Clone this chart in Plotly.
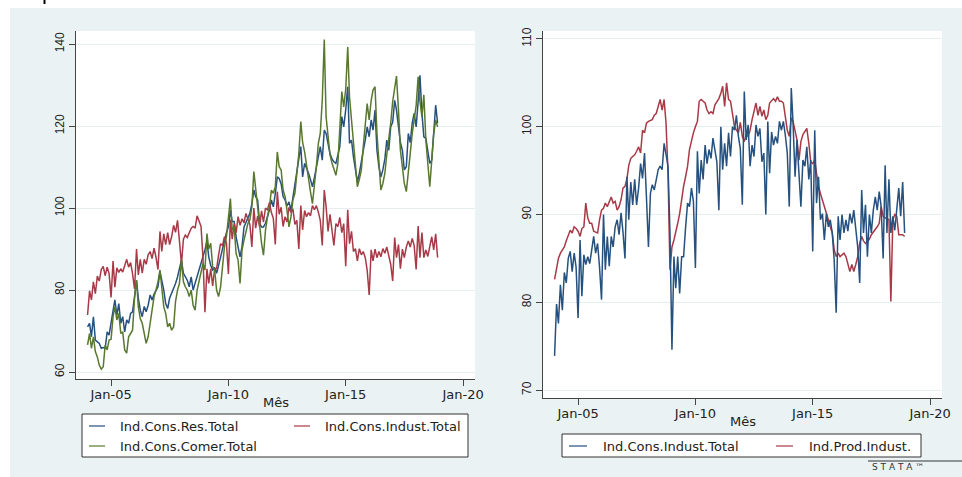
import pandas as pd
import plotly.graph_objects as go

# ---------------- data (monthly, Jan-2004 .. Dec-2018) ----------------
start_month = "2004-01-01"
n_months = 180

ind_cons_res_total = [
    71.0, 71.9, 68.6, 73.5, 67.8, 67.4, 67.0, 65.8, 66.0, 65.8, 69.8, 69.0,
    72.7, 75.0, 77.6, 73.9, 76.7, 71.9, 73.5, 69.8, 72.7, 71.9, 74.3, 74.7,
    78.4, 82.4, 78.0, 75.1, 73.5, 76.0, 74.7, 76.3, 78.8, 77.6, 79.0, 80.0,
    80.8, 84.5, 82.4, 80.0, 76.7, 75.5, 78.0, 79.2, 80.0, 81.6, 83.2, 84.9,
    87.3, 84.1, 83.2, 82.4, 80.8, 83.2, 80.0, 81.6, 83.7, 84.9, 86.9, 88.1,
    89.8, 92.0, 88.1, 86.0, 84.9, 85.5, 84.1, 86.0, 88.1, 90.0, 92.2, 94.0,
    95.4, 99.5, 96.7, 96.7, 93.0, 90.5, 88.1, 90.6, 95.4, 96.5, 97.9, 98.7,
    101.0, 104.4, 102.8, 102.0, 96.3, 95.4, 95.4, 96.3, 97.9, 99.5, 102.0, 100.3,
    103.5, 107.6, 107.2, 105.9, 102.8, 102.0, 100.5, 101.5, 99.5, 102.8, 106.0, 109.3,
    112.0, 115.0, 107.6, 110.9, 109.8, 108.5, 107.0, 105.2, 107.5, 110.1, 112.5, 115.0,
    111.7, 119.0, 118.2, 115.5, 113.3, 112.0, 111.3, 110.9, 113.0, 115.0, 122.3, 119.8,
    124.0, 129.6, 115.8, 116.6, 112.5, 109.0, 106.4, 108.5, 110.9, 114.0, 116.6, 119.8,
    117.4, 121.5, 119.0, 123.9, 114.1, 110.0, 107.6, 109.3, 112.0, 116.6, 114.1, 119.8,
    121.0, 126.3, 123.9, 119.0, 116.0, 114.1, 109.3, 110.1, 118.2, 116.0, 120.7, 123.1,
    119.8, 126.0, 132.4, 123.1, 117.4, 117.0, 114.0, 110.9, 111.7, 118.2, 125.1, 120.7,
]

ind_cons_comer_total = [
    66.6, 69.4, 65.8, 68.6, 65.0, 63.7, 61.7, 60.7, 61.3, 66.6, 65.4, 67.8,
    68.0, 73.5, 75.9, 72.7, 74.3, 69.4, 69.8, 65.4, 64.6, 68.6, 69.4, 70.2,
    78.0, 82.4, 75.9, 73.0, 71.9, 69.4, 67.0, 68.6, 71.9, 74.3, 78.4, 80.0,
    82.0, 84.9, 80.8, 75.9, 74.3, 71.0, 71.9, 70.2, 71.0, 77.2, 80.0, 81.6,
    87.3, 82.0, 80.8, 80.0, 78.4, 80.0, 76.3, 75.1, 80.0, 82.4, 84.9, 86.5,
    84.9, 93.8, 90.0, 91.4, 85.7, 84.9, 80.0, 78.4, 80.8, 84.9, 90.6, 93.0,
    97.9, 102.3, 94.6, 95.4, 88.9, 87.3, 81.6, 89.8, 92.2, 94.6, 96.3, 97.1,
    100.3, 108.9, 104.4, 101.1, 94.6, 91.4, 88.5, 94.6, 97.9, 100.3, 104.4, 103.6,
    105.2, 113.7, 110.1, 109.3, 104.4, 102.8, 99.5, 95.4, 97.9, 102.0, 103.6, 108.9,
    113.3, 121.1, 116.0, 113.7, 110.1, 107.6, 104.0, 101.1, 105.0, 110.1, 115.8, 118.2,
    126.3, 141.1, 122.3, 116.6, 113.0, 111.0, 109.3, 108.0, 110.9, 119.8, 128.4, 124.7,
    129.0, 139.3, 127.1, 121.5, 115.8, 110.0, 105.2, 107.0, 109.3, 115.0, 119.8, 125.5,
    121.5, 126.3, 128.8, 129.6, 118.2, 110.0, 104.4, 106.0, 108.5, 113.0, 116.6, 120.7,
    126.0, 129.6, 132.2, 123.9, 114.1, 110.0, 106.0, 104.0, 108.0, 113.3, 118.2, 122.3,
    125.0, 132.0, 126.0, 122.3, 127.6, 116.6, 110.0, 105.2, 111.7, 118.0, 121.5, 119.8,
]

ind_cons_indust_total = [
    73.9, 79.8, 77.6, 82.0, 79.1, 83.4, 82.2, 85.0, 85.8, 83.5, 85.6, 84.0,
    78.2, 87.1, 80.7, 85.4, 84.3, 85.2, 84.4, 86.0, 87.5, 85.6, 86.7, 84.0,
    80.3, 90.0, 83.7, 87.5, 84.1, 87.5, 86.3, 88.6, 89.4, 87.7, 90.2, 88.0,
    85.0, 94.3, 89.4, 93.7, 91.1, 94.0, 91.1, 93.0, 95.8, 94.1, 97.0, 92.0,
    86.3, 92.4, 93.4, 92.8, 94.0, 95.1, 95.5, 95.1, 98.1, 97.0, 95.5, 88.0,
    74.6, 85.2, 81.6, 85.2, 81.0, 85.2, 85.2, 88.5, 91.3, 90.9, 93.0, 91.5,
    83.9, 97.2, 92.4, 96.2, 94.0, 97.9, 95.8, 97.4, 96.4, 98.7, 97.4, 96.0,
    90.5, 100.0, 95.1, 98.1, 95.5, 99.3, 96.6, 100.0, 99.6, 101.3, 98.9, 97.5,
    91.1, 104.0, 98.5, 100.2, 95.5, 97.9, 96.6, 100.2, 98.9, 99.8, 96.0, 97.0,
    90.0, 100.6, 94.7, 99.4, 97.9, 98.9, 98.1, 100.6, 99.6, 100.6, 99.0, 97.0,
    90.9, 104.4, 100.4, 94.3, 98.5, 94.7, 90.9, 96.2, 95.5, 97.7, 94.0, 96.2,
    85.8, 99.6, 91.3, 94.3, 89.4, 90.1, 87.1, 90.1, 88.6, 89.4, 87.9, 84.8,
    78.8, 89.8, 87.1, 90.0, 87.9, 89.4, 88.1, 90.1, 89.0, 90.5, 87.9, 86.3,
    82.2, 92.8, 87.9, 91.1, 85.2, 90.0, 87.9, 90.5, 92.0, 90.5, 92.6, 90.9,
    85.0, 95.6, 87.9, 94.0, 87.9, 89.8, 88.2, 90.5, 93.0, 89.8, 93.7, 87.9,
]

ind_prod_indust = [
    82.6, 84.1, 85.0, 85.6, 86.0, 86.3, 87.0, 87.5, 88.2, 87.9, 88.6, 88.4,
    88.1, 87.5, 88.4, 88.6, 91.3, 89.6, 89.0, 89.0, 88.1, 88.0, 87.9, 89.4,
    90.5, 90.7, 91.3, 90.9, 91.5, 92.0, 91.3, 91.5, 90.5, 90.9, 91.7, 93.0,
    93.2, 94.1, 95.6, 96.4, 96.6, 96.8, 97.2, 97.7, 97.0, 99.6, 99.3, 100.4,
    100.6, 100.7, 100.8, 101.3, 101.5, 102.3, 103.1, 101.9, 103.1, 100.4, 94.7, 83.7,
    86.3, 87.1, 87.9, 89.0, 90.1, 92.0, 93.2, 94.3, 95.5, 97.4, 98.5, 99.3,
    100.0, 100.6, 102.9, 103.1, 102.9, 102.7, 101.9, 101.5, 101.7, 101.5, 102.5, 102.9,
    103.2, 103.8, 104.6, 102.3, 105.0, 103.1, 102.9, 101.5, 100.0, 99.6, 99.3, 100.5,
    98.9, 98.3, 99.1, 98.9, 99.6, 100.8, 101.7, 102.7, 101.3, 102.3, 101.2, 101.9,
    100.8, 101.3, 102.7, 102.9, 103.2, 102.9, 103.4, 102.9, 102.9, 102.7, 100.8, 99.6,
    98.9, 101.0, 100.6, 99.6, 98.5, 96.2, 98.3, 99.1, 99.4, 99.8, 98.1, 96.0,
    95.8, 96.2, 94.7, 93.2, 92.4, 91.7, 90.9, 90.1, 89.4, 88.6, 87.9, 86.0,
    85.2, 85.6, 85.2, 85.4, 85.6, 85.2, 84.4, 83.5, 84.3, 83.5, 84.3, 85.2,
    86.7, 87.5, 87.0, 86.7, 86.9, 87.2, 87.7, 88.0, 88.2, 88.6, 89.0, 90.9,
    89.8, 89.6, 89.6, 89.4, 80.1, 89.4, 90.0, 89.8, 87.7, 87.7, 87.7, 87.5,
]

x_tick_dates = ["2005-01-01", "2010-01-01", "2015-01-01", "2020-01-01"]
x_tick_labels = ["Jan-05", "Jan-10", "Jan-15", "Jan-20"]
y_ticks_left = [60, 80, 100, 120, 140]
y_ticks_right = [70, 80, 90, 100, 110]
x_title = "Mês"

names_left = ["Ind.Cons.Res.Total", "Ind.Cons.Indust.Total", "Ind.Cons.Comer.Total"]
names_right = ["Ind.Cons.Indust.Total", "Ind.Prod.Indust."]

meses = pd.date_range(start_month, periods=n_months, freq="MS")

# ---------------- style ----------------
W, H = 962, 477
BLUE = "#26517e"
RED = "#a83a47"
GREEN = "#58782f"
BG = "#eaf2f3"
AX = "#444444"
TXT = "#222222"
FONT_H = "DejaVu Sans"
FONT_V = "Liberation Sans"
LW = 1.5


def fx(px):
    return px / W


def fy(py):
    return 1 - py / H


fig = go.Figure()

fig.add_trace(go.Scatter(x=meses, y=ind_cons_res_total, name=names_left[0], mode="lines",
                         line=dict(color=BLUE, width=LW), xaxis="x", yaxis="y"))
fig.add_trace(go.Scatter(x=meses, y=ind_cons_indust_total, name=names_left[1], mode="lines",
                         line=dict(color=RED, width=LW), xaxis="x", yaxis="y"))
fig.add_trace(go.Scatter(x=meses, y=ind_cons_comer_total, name=names_left[2], mode="lines",
                         line=dict(color=GREEN, width=LW), xaxis="x", yaxis="y"))

fig.add_trace(go.Scatter(x=meses, y=ind_prod_indust, name=names_right[1], mode="lines",
                         line=dict(color=RED, width=LW), xaxis="x2", yaxis="y2"))
fig.add_trace(go.Scatter(x=meses, y=ind_cons_indust_total, name=names_right[0], mode="lines",
                         line=dict(color=BLUE, width=LW), xaxis="x2", yaxis="y2"))

xrange = ["2003-07-05", "2020-07-05"]

common_x = dict(type="date", range=xrange, tickmode="array", tickvals=x_tick_dates,
                ticktext=x_tick_labels, ticks="outside", ticklen=6, tickcolor=AX,
                ticklabelstandoff=-3,
                showline=True, linecolor=AX, linewidth=1, showgrid=False, zeroline=False,
                tickfont=dict(family=FONT_H, size=13, color=TXT))
common_y = dict(tickmode="array", ticks="outside", ticklen=6, tickcolor=AX, tickangle=-90,
                showline=True, linecolor=AX, linewidth=1, showgrid=True, gridcolor="#e6eef0",
                gridwidth=1, zeroline=False, tickfont=dict(family=FONT_V, size=12, color=TXT))

# width follows the window (fills it exactly); height fixed
fig.update_layout(
    height=H, autosize=True,
    margin=dict(l=0, r=0, t=0, b=0, autoexpand=False),
    paper_bgcolor=BG, plot_bgcolor="white",
    showlegend=False,
    xaxis=dict(domain=[fx(76), fx(475)], anchor="y", **common_x),
    yaxis=dict(domain=[fy(379), fy(31)], anchor="x", range=[58.3, 143.2],
               tickvals=y_ticks_left, **common_y),
    xaxis2=dict(domain=[fx(543), fx(942)], anchor="y2", **common_x),
    yaxis2=dict(domain=[fy(398), fy(31)], anchor="x2", range=[69.1, 110.9],
                tickvals=y_ticks_right, **common_y),
)

shapes = []
annotations = []

# white strips at the top and left of the picture
shapes.append(dict(type="rect", xref="paper", yref="paper", x0=0, x1=1, y0=fy(8), y1=1,
                   fillcolor="white", line=dict(width=0), layer="below"))
shapes.append(dict(type="rect", xref="paper", yref="paper", x0=0, x1=fx(10), y0=0, y1=1,
                   fillcolor="white", line=dict(width=0), layer="below"))
shapes.append(dict(type="line", xref="paper", yref="paper", x0=fx(44.5), x1=fx(44.5),
                   y0=fy(0), y1=fy(4), line=dict(color="black", width=2)))

# axis titles
annotations.append(dict(text=x_title, x=fx(275.5), y=fy(402), xref="paper", yref="paper",
                        showarrow=False, xanchor="center", yanchor="middle",
                        font=dict(family=FONT_H, size=13, color=TXT)))
annotations.append(dict(text=x_title, x=fx(742.5), y=fy(421), xref="paper", yref="paper",
                        showarrow=False, xanchor="center", yanchor="middle",
                        font=dict(family=FONT_H, size=13, color=TXT)))


def legend_box(x0, x1, y0, y1):
    shapes.append(dict(type="rect", xref="paper", yref="paper", x0=fx(x0), x1=fx(x1),
                       y0=fy(y1), y1=fy(y0), fillcolor="white",
                       line=dict(color="#333333", width=1)))


def legend_item(lx0, lx1, tx, cy, color, label):
    shapes.append(dict(type="line", xref="paper", yref="paper", x0=fx(lx0), x1=fx(lx1),
                       y0=fy(cy), y1=fy(cy), line=dict(color=color, width=1.2)))
    annotations.append(dict(text=label, x=fx(tx), y=fy(cy), xref="paper", yref="paper",
                            showarrow=False, xanchor="left", yanchor="middle",
                            font=dict(family=FONT_H, size=13, color=TXT)))


legend_box(82, 468, 414, 457)
legend_item(89, 105, 118, 426, BLUE, names_left[0])
legend_item(294, 310, 323, 426, RED, names_left[1])
legend_item(89, 105, 118, 446, GREEN, names_left[2])

legend_box(562, 921, 434, 457)
legend_item(569, 587, 601, 446, BLUE, names_right[0])
legend_item(776, 793, 807, 446, RED, names_right[1])

# Stata mark (kept fully inside the picture)
shapes.append(dict(type="line", xref="paper", yref="paper", x0=fx(868), x1=fx(962),
                   y0=fy(461), y1=fy(461), line=dict(color="#333333", width=1)))
annotations.append(dict(text="S T A T A ™", x=fx(870), y=fy(466.5), xref="paper", yref="paper",
                        showarrow=False, xanchor="left", yanchor="middle",
                        font=dict(family=FONT_H, size=9, color="#333333")))

fig.update_layout(shapes=shapes, annotations=annotations)

# the figure fills the whole window: no page margin, no scrollbars
page_fix = ("document.documentElement.style.margin='0px';"
            "document.documentElement.style.overflow='hidden';"
            "document.body.style.margin='0px';"
            "document.body.style.overflow='hidden';"
            "window.dispatchEvent(new Event('resize'));")
fig.write_html("out.html", post_script=page_fix, default_width="100%",
               default_height="477px", config={"displayModeBar": False, "responsive": True})
